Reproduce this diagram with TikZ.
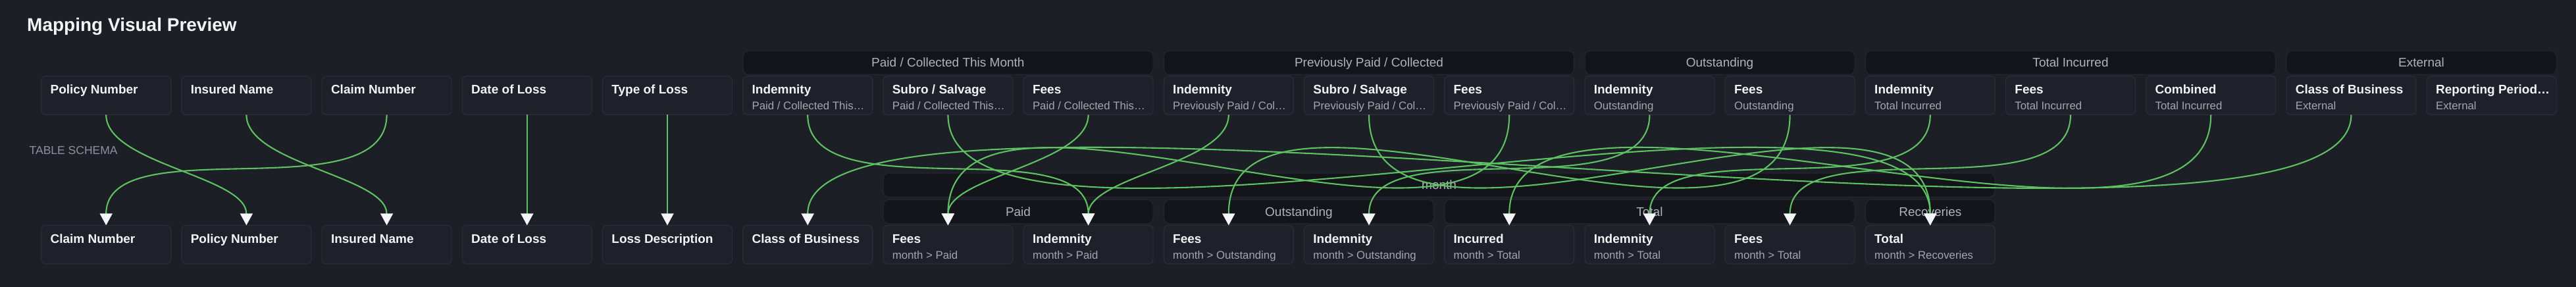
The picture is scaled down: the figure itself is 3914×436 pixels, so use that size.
\documentclass[tikz,border=0pt]{standalone}
\usepackage{fontspec}
\setmainfont{Liberation Sans}
\usetikzlibrary{arrows.meta}
\definecolor{bg}{HTML}{1C1F26}
\definecolor{boxfill}{HTML}{1E2129}
\definecolor{boxline}{HTML}{2B2E37}
\definecolor{hdrfill}{HTML}{13151A}
\definecolor{hdrline}{HTML}{23262D}
\definecolor{titlecol}{HTML}{F2F3F5}
\definecolor{subcol}{HTML}{A3A6AE}
\definecolor{hdrtext}{HTML}{B0B3BA}
\definecolor{schemacol}{HTML}{8E919A}
\definecolor{linkgreen}{HTML}{5EC262}
\definecolor{arrowcol}{HTML}{F4F5F8}
\tikzset{
  fieldbox/.style={draw=boxline, fill=boxfill, line width=1.2pt, rounded corners=7pt,
    minimum width=197pt, minimum height=58.6pt, anchor=north west, inner sep=0pt, outer sep=0pt},
  fieldtitle/.style={anchor=base west, inner sep=0pt, text=titlecol,
    font=\fontsize{19}{22}\selectfont\bfseries},
  fieldsub/.style={anchor=base west, inner sep=0pt, text=subcol,
    font=\fontsize{16.8}{20}\selectfont},
  grouphdr/.style={draw=hdrline, fill=hdrfill, line width=1.2pt, rounded corners=9pt,
    inner sep=0pt, outer sep=0pt, text=hdrtext, font=\fontsize{19}{22}\selectfont,
    text height=13.6pt, text depth=0pt, anchor=north west},
  link/.style={draw=linkgreen, line width=2.1pt,
    -{Triangle[width=19pt,length=18pt,color=arrowcol,fill=arrowcol]}},
}
% name, column, top y, title
\newcommand{\mkfieldA}[4]{%
  \node[fieldbox] (#1) at ({62.7+213.2*#2},#3) {};
  \node[fieldtitle] (#1-t) at ({76.4+213.2*#2},{#3+27}) {#4};}
% name, column, top y, title, subtitle
\newcommand{\mkfieldB}[5]{%
  \node[fieldbox] (#1) at ({62.7+213.2*#2},#3) {};
  \node[fieldtitle] (#1-t) at ({76.4+213.2*#2},{#3+27}) {#4};
  \node[fieldsub] (#1-s) at ({76.4+213.2*#2},{#3+50.7}) {#5};}
% name, first col, last col, top y, height, label
\newcommand{\mkgroup}[6]{%
  \node[grouphdr, minimum width={213.2*(#3-#2)+197}, minimum height=#5]
    (#1) at ({62.7+213.2*#2},#4) {#6};}
% from, to, bend depth
\newcommand{\mklink}[3]{%
  \draw[link] (#1.south) .. controls +(0,#3) and +(0,-#3) .. (#2.north);}
\begin{document}
\begin{tikzpicture}[x=1pt,y=-1pt]
\fill[bg] (0,0) rectangle (3914,436);
\useasboundingbox (0,0) rectangle (3914,436);

\node[anchor=base west, inner sep=0pt, text=titlecol, font=\fontsize{28}{32}\selectfont\bfseries]
  (title) at (41,48) {Mapping Visual Preview};
\node[anchor=base west, inner sep=0pt, text=schemacol, font=\fontsize{17.5}{20}\selectfont]
  (schema) at (44.5,234.3) {TABLE SCHEMA};

% top group headers
\mkgroup{gpc}{5}{7}{77}{36.3}{Paid / Collected This Month}
\mkgroup{gprev}{8}{10}{77}{36.3}{Previously Paid / Collected}
\mkgroup{gout}{11}{12}{77}{36.3}{Outstanding}
\mkgroup{gti}{13}{15}{77}{36.3}{Total Incurred}
\mkgroup{gext}{16}{17}{77}{36.3}{External}

% top fields
\mkfieldA{t0}{0}{115.7}{Policy Number}
\mkfieldA{t1}{1}{115.7}{Insured Name}
\mkfieldA{t2}{2}{115.7}{Claim Number}
\mkfieldA{t3}{3}{115.7}{Date of Loss}
\mkfieldA{t4}{4}{115.7}{Type of Loss}
\mkfieldB{t5}{5}{115.7}{Indemnity}{Paid / Collected This…}
\mkfieldB{t6}{6}{115.7}{Subro / Salvage}{Paid / Collected This…}
\mkfieldB{t7}{7}{115.7}{Fees}{Paid / Collected This…}
\mkfieldB{t8}{8}{115.7}{Indemnity}{Previously Paid / Col…}
\mkfieldB{t9}{9}{115.7}{Subro / Salvage}{Previously Paid / Col…}
\mkfieldB{t10}{10}{115.7}{Fees}{Previously Paid / Col…}
\mkfieldB{t11}{11}{115.7}{Indemnity}{Outstanding}
\mkfieldB{t12}{12}{115.7}{Fees}{Outstanding}
\mkfieldB{t13}{13}{115.7}{Indemnity}{Total Incurred}
\mkfieldB{t14}{14}{115.7}{Fees}{Total Incurred}
\mkfieldB{t15}{15}{115.7}{Combined}{Total Incurred}
\mkfieldB{t16}{16}{115.7}{Class of Business}{External}
\mkfieldB{t17}{17}{115.7}{Reporting Period…}{External}

% bottom group headers
\mkgroup{gmonth}{6}{13}{263}{36.3}{month}
\mkgroup{gpaid}{6}{7}{303.3}{36.3}{Paid}
\mkgroup{gbout}{8}{9}{303.3}{36.3}{Outstanding}
\mkgroup{gtotal}{10}{12}{303.3}{36.3}{Total}
\mkgroup{grec}{13}{13}{303.3}{36.3}{Recoveries}

% bottom fields
\mkfieldA{b0}{0}{342.3}{Claim Number}
\mkfieldA{b1}{1}{342.3}{Policy Number}
\mkfieldA{b2}{2}{342.3}{Insured Name}
\mkfieldA{b3}{3}{342.3}{Date of Loss}
\mkfieldA{b4}{4}{342.3}{Loss Description}
\mkfieldA{b5}{5}{342.3}{Class of Business}
\mkfieldB{b6}{6}{342.3}{Fees}{month > Paid}
\mkfieldB{b7}{7}{342.3}{Indemnity}{month > Paid}
\mkfieldB{b8}{8}{342.3}{Fees}{month > Outstanding}
\mkfieldB{b9}{9}{342.3}{Indemnity}{month > Outstanding}
\mkfieldB{b10}{10}{342.3}{Incurred}{month > Total}
\mkfieldB{b11}{11}{342.3}{Indemnity}{month > Total}
\mkfieldB{b12}{12}{342.3}{Fees}{month > Total}
\mkfieldB{b13}{13}{342.3}{Total}{month > Recoveries}

% connectors
\mklink{t0}{b1}{74.6}
\mklink{t1}{b2}{74.6}
\mklink{t2}{b0}{149.2}
\draw[link] (t3.south) -- (b3.north);
\draw[link] (t4.south) -- (b4.north);
\mklink{t5}{b7}{149.2}
\mklink{t6}{b13}{300}
\mklink{t7}{b6}{74.6}
\mklink{t8}{b7}{74.6}
\mklink{t9}{b13}{298.5}
\mklink{t10}{b6}{298.5}
\mklink{t11}{b9}{149.2}
\mklink{t12}{b8}{298.5}
\mklink{t13}{b11}{149.2}
\mklink{t14}{b12}{149.2}
\mklink{t15}{b10}{300}
\mklink{t16}{b5}{300}
\end{tikzpicture}
\end{document}
